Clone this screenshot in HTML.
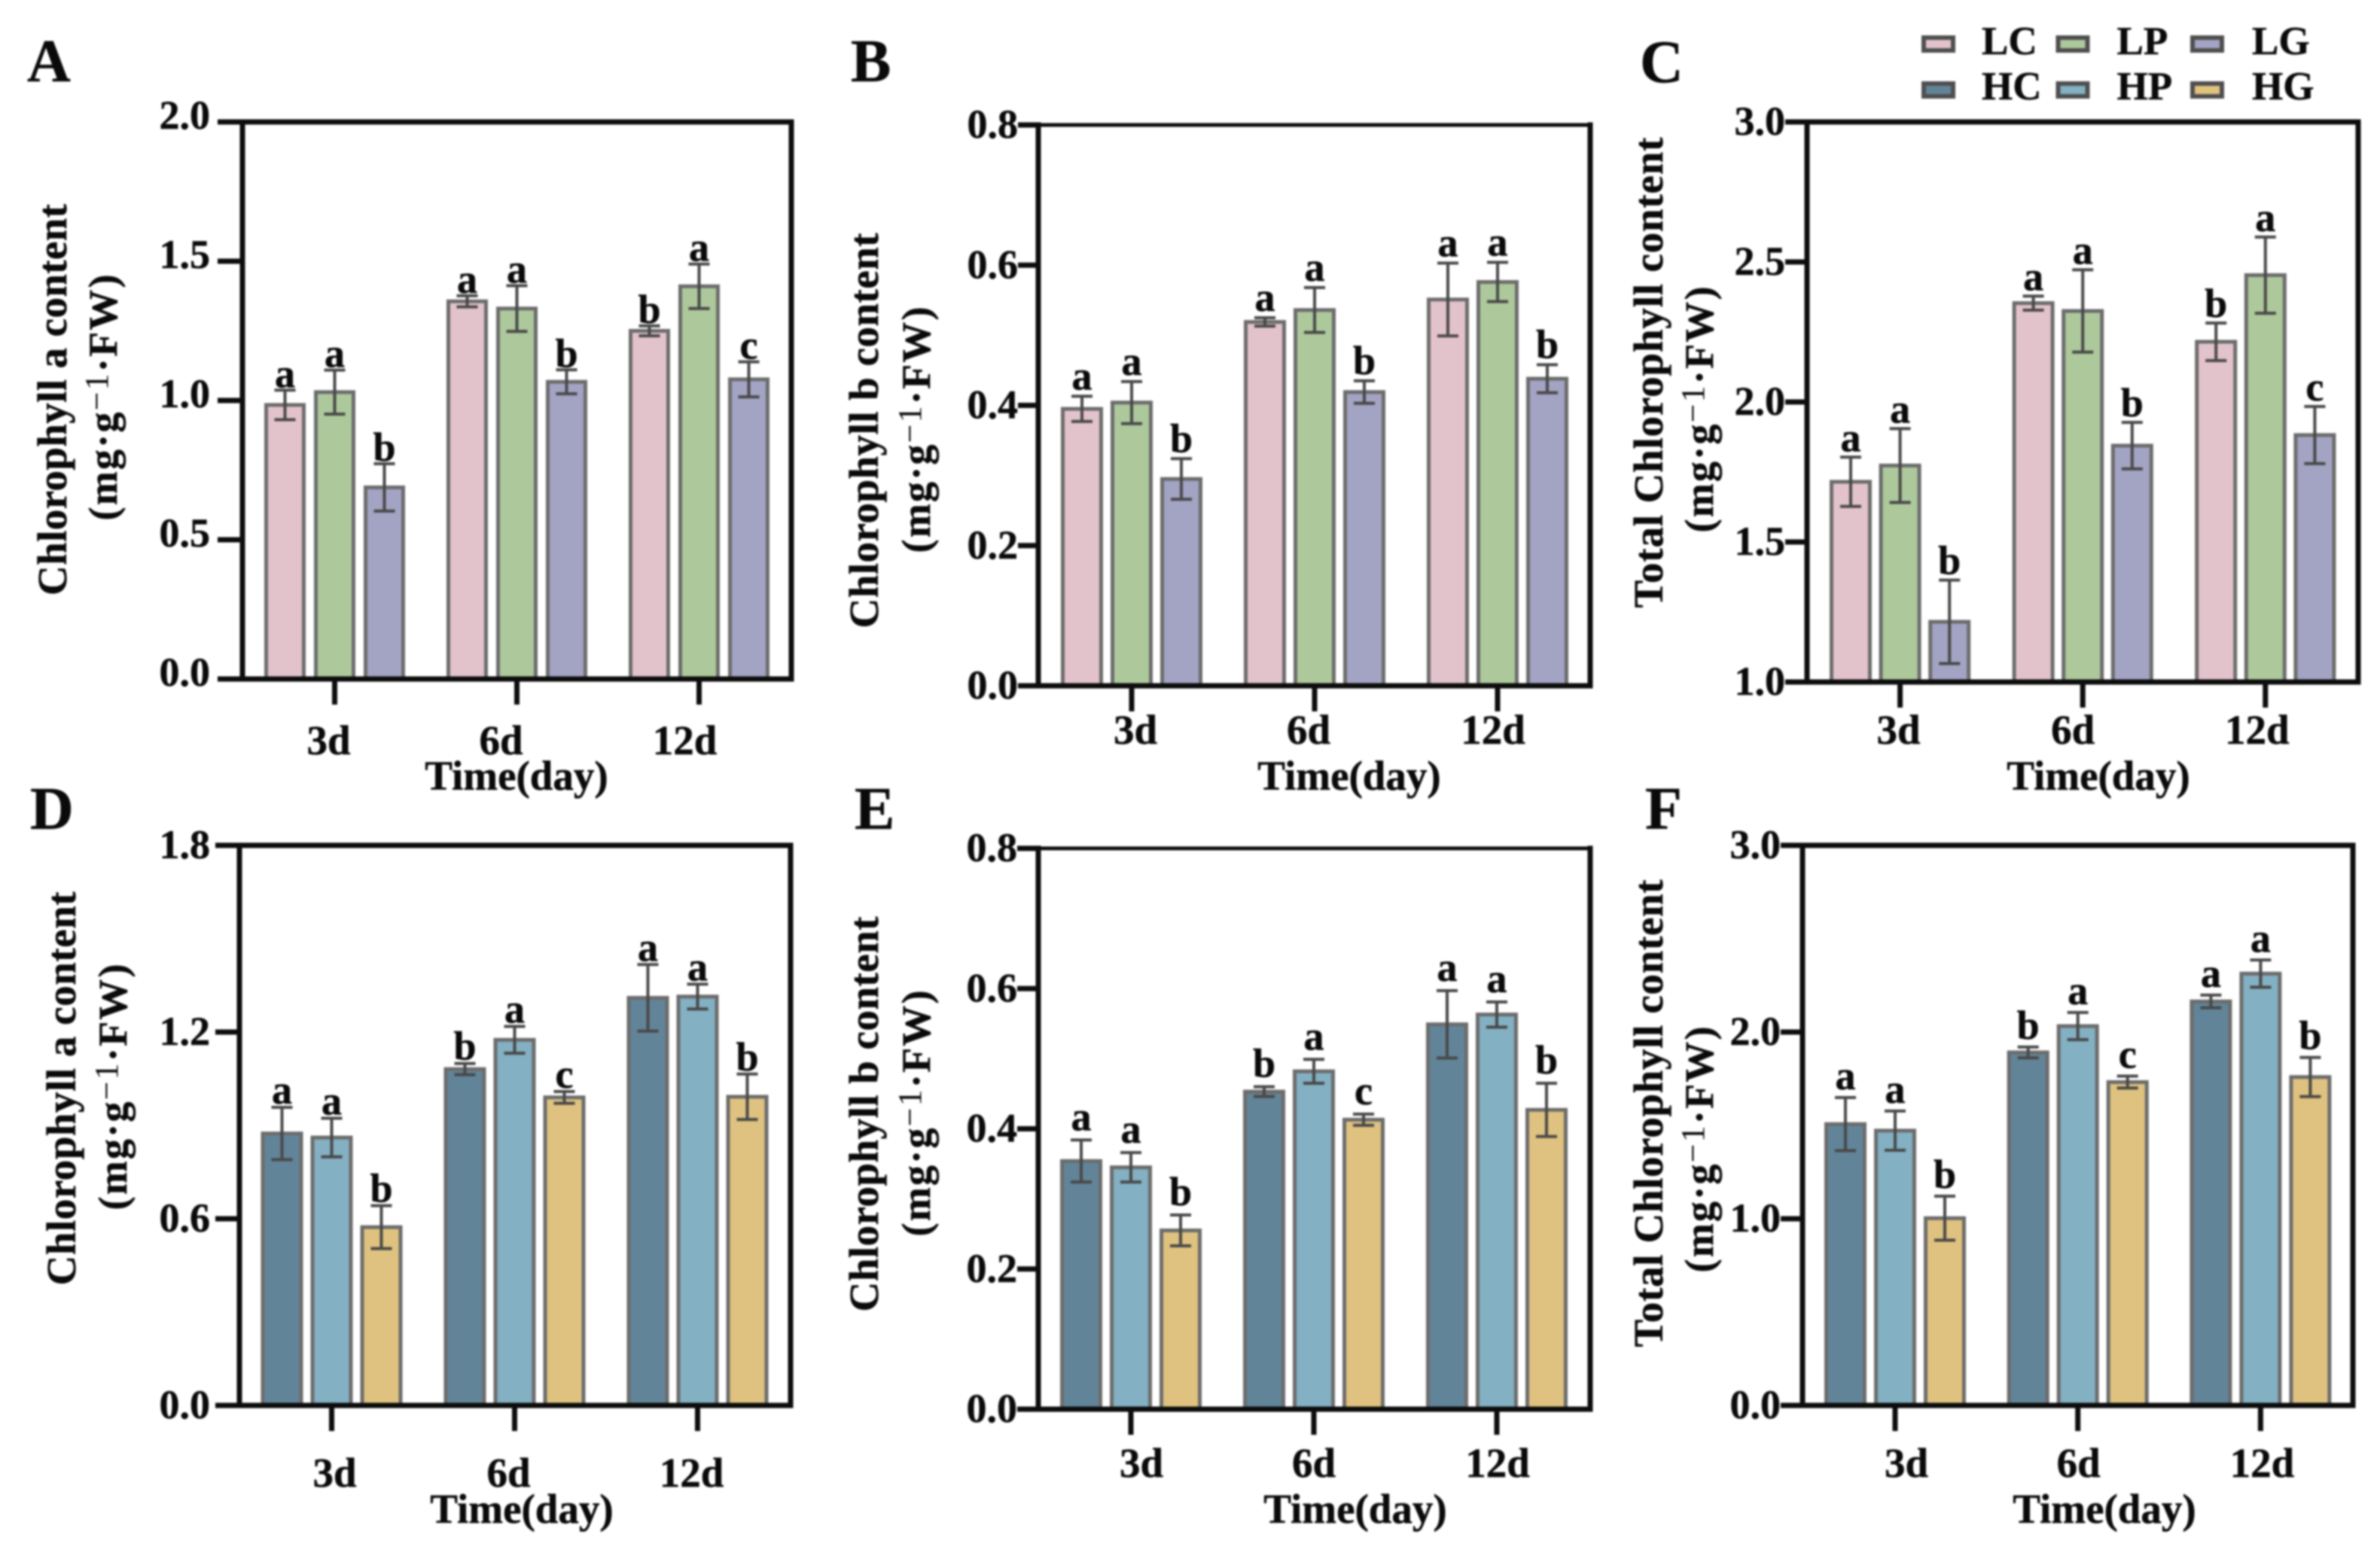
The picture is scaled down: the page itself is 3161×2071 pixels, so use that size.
<!DOCTYPE html>
<html lang="en">
<head>
<meta charset="utf-8">
<title>Chlorophyll content by time and treatment</title>
<style>
html,body{margin:0;padding:0;background:#fff;width:3161px;height:2071px;overflow:hidden}
svg{display:block;filter:blur(1.4px)}
text{font-family:"Liberation Serif",serif;font-weight:700;fill:#0a0a0a;stroke:#0a0a0a;stroke-width:.5px}
</style>
</head>
<body>
<svg id="figure" xmlns="http://www.w3.org/2000/svg" width="3161" height="2071" viewBox="0 0 3161 2071"></svg>
<script>
// Categories and legend
const categories = ['3d', '6d', '12d'];
const lightSeries = ['LC', 'LP', 'LG'];
const heavySeries = ['HC', 'HP', 'HG'];

// Panel A: chlorophyll a (light group)
const aTicks = ['0.0', '0.5', '1.0', '1.5', '2.0'];
const aLC = [0.984, 1.356, 1.25];
const aLP = [1.03, 1.33, 1.41];
const aLG = [0.688, 1.067, 1.076];
const aLCerr = [0.053, 0.02, 0.018];
const aLPerr = [0.079, 0.082, 0.08];
const aLGerr = [0.085, 0.043, 0.063];
const aSig = ['a', 'a', 'b', 'a', 'a', 'b', 'b', 'a', 'c'];

// Panel B: chlorophyll b (light group)
const bTicks = ['0.0', '0.2', '0.4', '0.6', '0.8'];
const bLC = [0.395, 0.519, 0.551];
const bLP = [0.404, 0.536, 0.576];
const bLG = [0.295, 0.419, 0.438];
const bLCerr = [0.018, 0.006, 0.052];
const bLPerr = [0.03, 0.032, 0.028];
const bLGerr = [0.029, 0.016, 0.02];
const bSig = ['a', 'a', 'b', 'a', 'a', 'b', 'a', 'a', 'b'];

// Panel C: total chlorophyll (light group)
const cTicks = ['1.0', '1.5', '2.0', '2.5', '3.0'];
const cLC = [1.715, 2.353, 2.215];
const cLP = [1.773, 2.325, 2.453];
const cLG = [1.215, 1.844, 1.882];
const cLCerr = [0.088, 0.025, 0.067];
const cLPerr = [0.132, 0.147, 0.136];
const cLGerr = [0.149, 0.083, 0.102];
const cSig = ['a', 'a', 'b', 'a', 'a', 'b', 'b', 'a', 'c'];

// Panel D: chlorophyll a (heavy group)
const dTicks = ['0.0', '0.6', '1.2', '1.8'];
const dHC = [0.874, 1.081, 1.31];
const dHP = [0.861, 1.175, 1.314];
const dHG = [0.573, 0.99, 0.992];
const dHCerr = [0.084, 0.018, 0.107];
const dHPerr = [0.062, 0.043, 0.04];
const dHGerr = [0.069, 0.019, 0.073];
const dSig = ['a', 'a', 'b', 'b', 'a', 'c', 'a', 'a', 'b'];

// Panel E: chlorophyll b (heavy group)
const eTicks = ['0.0', '0.2', '0.4', '0.6', '0.8'];
const eHC = [0.354, 0.453, 0.549];
const eHP = [0.345, 0.482, 0.563];
const eHG = [0.255, 0.413, 0.427];
const eHCerr = [0.03, 0.007, 0.048];
const eHPerr = [0.021, 0.017, 0.018];
const eHGerr = [0.022, 0.008, 0.038];
const eSig = ['a', 'a', 'b', 'b', 'a', 'c', 'a', 'a', 'b'];

// Panel F: total chlorophyll (heavy group)
const fTicks = ['0.0', '1.0', '2.0', '3.0'];
const fHC = [1.507, 1.891, 2.164];
const fHP = [1.472, 2.032, 2.313];
const fHG = [1.003, 1.732, 1.759];
const fHCerr = [0.142, 0.029, 0.034];
const fHPerr = [0.105, 0.073, 0.073];
const fHGerr = [0.118, 0.032, 0.105];
const fSig = ['a', 'a', 'b', 'b', 'a', 'c', 'a', 'a', 'b'];

// Drawing
const seriesColors = {LC:'#e3c3cb', LP:'#adc99c', LG:'#a3a3c4', HC:'#628498', HP:'#83b0c2', HG:'#dfc27f'};
const svg = document.getElementById('figure');
const NS = 'http://www.w3.org/2000/svg';

function make(tag, attrs, parent, content) {
  const el = document.createElementNS(NS, tag);
  for (const k in attrs) el.setAttribute(k, attrs[k]);
  if (content !== undefined) el.textContent = content;
  parent.appendChild(el);
  return el;
}

function yScale(f, v) {
  const lo = f.ticks[0] * 1, hi = f.ticks[f.ticks.length - 1] * 1;
  return f.B - (v - lo) / (hi - lo) * (f.B - f.T);
}
function barLeft(f, g, s) { return f.x0 + g * f.gs + s * f.bs; }
function groupCenter(f, g) { return barLeft(f, g, 1) + f.bw / 2; }

function drawPanel(f) {
  const group = make('g', {}, svg);
  
  

  const letter = make('text', {x: f.letterX, y: f.letterY, 'font-size': 80}, group, f.letter);
  
  

  // bars, error bars, significance letters
  f.series.forEach(function (name, s) {
    categories.forEach(function (cat, g) {
      const v = f.means[s][g], e = f.errs[s][g];
      const left = barLeft(f, g, s);
      const top = yScale(f, v);
      const bar = make('rect', {x: left + 2.5, y: top, width: f.bw - 5, height: f.B - top,
        fill: seriesColors[name], stroke: '#6c6c6c', 'stroke-width': 5}, group);
      
      

      const cx = left + f.bw / 2;
      const yTop = yScale(f, v + e), yBot = yScale(f, v - e);
      const err = make('path', {d: 'M' + cx + ' ' + yTop + 'V' + yBot +
        'M' + (cx - 14) + ' ' + yTop + 'H' + (cx + 14) +
        'M' + (cx - 14) + ' ' + yBot + 'H' + (cx + 14),
        fill: 'none', stroke: '#484848', 'stroke-width': 4}, group);
      
      

      const sig = make('text', {x: cx, y: yTop - f.sigGap - 1, 'font-size': 54, 'text-anchor': 'middle'},
        group, f.sig[g * 3 + s]);
      
      
    });
  });

  // frame
  const frame = make('path', {d: 'M' + f.L + ' ' + f.B + 'V' + f.T + 'M' + f.R + ' ' + f.T + 'V' + f.B +
    'M' + f.L + ' ' + f.B + 'H' + f.R, fill: 'none', stroke: '#0d0d0d', 'stroke-width': 7, 'stroke-linecap': 'square'}, group);
  
  
  const topLine = make('line', {x1: f.L, x2: f.R, y1: f.T, y2: f.T, stroke: '#0d0d0d', 'stroke-width': f.topW}, group);
  
  

  // y axis
  f.ticks.forEach(function (t) {
    const y = yScale(f, t * 1);
    const tick = make('line', {x1: f.tickX, x2: f.L, y1: y, y2: y, stroke: '#0d0d0d', 'stroke-width': 7}, group);
    
    
    const lab = make('text', {x: f.tickLabelX, y: y + f.tickLabelDy, 'font-size': 54, 'text-anchor': 'end'}, group, t);
    
    
  });

  // x axis
  categories.forEach(function (cat, g) {
    const x = groupCenter(f, g);
    const tick = make('line', {x1: x, x2: x, y1: f.B, y2: f.B + 34, stroke: '#0d0d0d', 'stroke-width': 7}, group);
    
    
    const lab = make('text', {x: x + f.catOffsets[g], y: f.catY, 'font-size': 55, 'text-anchor': 'middle'}, group, cat);
    
    
  });

  const xTitle = make('text', {x: f.timeX, y: f.timeY, 'font-size': 55, 'text-anchor': 'middle'}, group, 'Time(day)');
  
  

  // y titles
  const yTitle = make('text', {transform: 'translate(' + f.t1x + ' ' + f.t1y + ') rotate(-90)', 'font-size': 55,
    'text-anchor': 'middle', textLength: f.t1len, lengthAdjust: 'spacing'}, group, f.title);
  
  

  const unit = make('text', {transform: 'translate(' + f.t2x + ' ' + f.t2y + ') rotate(-90)', 'font-size': 54,
    'text-anchor': 'middle', textLength: 327, lengthAdjust: 'spacing'}, group);
  
  
  make('tspan', {}, unit, '(mg·g');
  make('tspan', {dy: -12, 'font-size': 44, 'font-weight': 400, 'style': 'stroke-width:0'}, unit, '−1');
  make('tspan', {dy: 12}, unit, '·FW)');
}

const chlA = 'Chlorophyll a content', chlB = 'Chlorophyll b content', total = 'Total Chlorophyll content';
const common = {topW: 7, tickLabelDy: 17};

[
  Object.assign({}, common, {letter:'A', title:chlA, series:lightSeries, ticks:aTicks,
    means:[aLC,aLP,aLG], errs:[aLCerr,aLPerr,aLGerr], sig:aSig,
    L:322, R:1051, T:162, B:902, x0:351, gs:242, bs:66, bw:55, sigGap:3,
    tickX:289, tickLabelX:279, tickLabelDy:9, catOffsets:[-8,-21,-19], catY:1002, timeX:686, timeY:1049,
    letterX:36, letterY:108, t1x:88, t1y:531, t1len:520, t2x:155, t2y:528}),
  Object.assign({}, common, {letter:'B', title:chlB, series:lightSeries, ticks:bTicks,
    means:[bLC,bLP,bLG], errs:[bLCerr,bLPerr,bLGerr], sig:bSig,
    L:1379, R:2112, T:166, B:911, x0:1409, gs:243, bs:66, bw:56, sigGap:8, topW:5,
    tickX:1352, tickLabelX:1352, catOffsets:[5,-8,-6], catY:988, timeX:1792, timeY:1049,
    letterX:1130, letterY:108, t1x:1166, t1y:572, t1len:525, t2x:1235, t2y:571}),
  Object.assign({}, common, {letter:'C', title:total, series:lightSeries, ticks:cTicks,
    means:[cLC,cLP,cLG], errs:[cLCerr,cLPerr,cLGerr], sig:cSig,
    L:2400, R:3132, T:162, B:906, x0:2430, gs:242.6, bs:65.6, bw:56, sigGap:7,
    tickX:2371, tickLabelX:2371, catOffsets:[-2,-13,-11], catY:988, timeX:2787, timeY:1049,
    letterX:2178, letterY:109, t1x:2208, t1y:495, t1len:625, t2x:2275, t2y:544}),
  Object.assign({}, common, {letter:'D', title:chlA, series:heavySeries, ticks:dTicks,
    means:[dHC,dHP,dHG], errs:[dHCerr,dHPerr,dHGerr], sig:dSig,
    L:318, R:1050, T:1123, B:1867, x0:346.5, gs:243, bs:66, bw:56, sigGap:4,
    tickX:286, tickLabelX:279, catOffsets:[4,-8,-8], catY:1975, timeX:693, timeY:2023,
    letterX:40, letterY:1101, t1x:100, t1y:1446, t1len:523, t2x:168, t2y:1444}),
  Object.assign({}, common, {letter:'E', title:chlB, series:heavySeries, ticks:eTicks,
    means:[eHC,eHP,eHG], errs:[eHCerr,eHPerr,eHGerr], sig:eSig,
    L:1379, R:2112, T:1127, B:1872, x0:1408, gs:243, bs:66, bw:56, sigGap:12, topW:5,
    tickX:1351, tickLabelX:1351, catOffsets:[14,0,1], catY:1962, timeX:1800, timeY:2023,
    letterX:1135, letterY:1101, t1x:1166, t1y:1480, t1len:525, t2x:1235, t2y:1479}),
  Object.assign({}, common, {letter:'F', title:total, series:heavySeries, ticks:fTicks,
    means:[fHC,fHP,fHG], errs:[fHCerr,fHPerr,fHGerr], sig:fSig,
    L:2394, R:3125, T:1123, B:1867, x0:2423, gs:242.7, bs:66, bw:56, sigGap:10,
    tickX:2365, tickLabelX:2365, catOffsets:[15,1,2], catY:1962, timeX:2795, timeY:2023,
    letterX:2185, letterY:1101, t1x:2208, t1y:1479, t1len:621, t2x:2275, t2y:1527})
].forEach(drawPanel);

// Legend
const legend = make('g', {}, svg);


[lightSeries, heavySeries].forEach(function (row, r) {
  row.forEach(function (name, c) {
    const swatch = make('rect', {x: 2555 + c * 178.5, y: 50 + r * 61, width: 39, height: 17,
      fill: seriesColors[name], stroke: '#4f4f4f', 'stroke-width': 6}, legend);
    
    
    const label = make('text', {x: 2632 + c * 179.5, y: 72 + r * 60, 'font-size': 53}, legend, name);
    
    
  });
});
</script>
</body>
</html>
